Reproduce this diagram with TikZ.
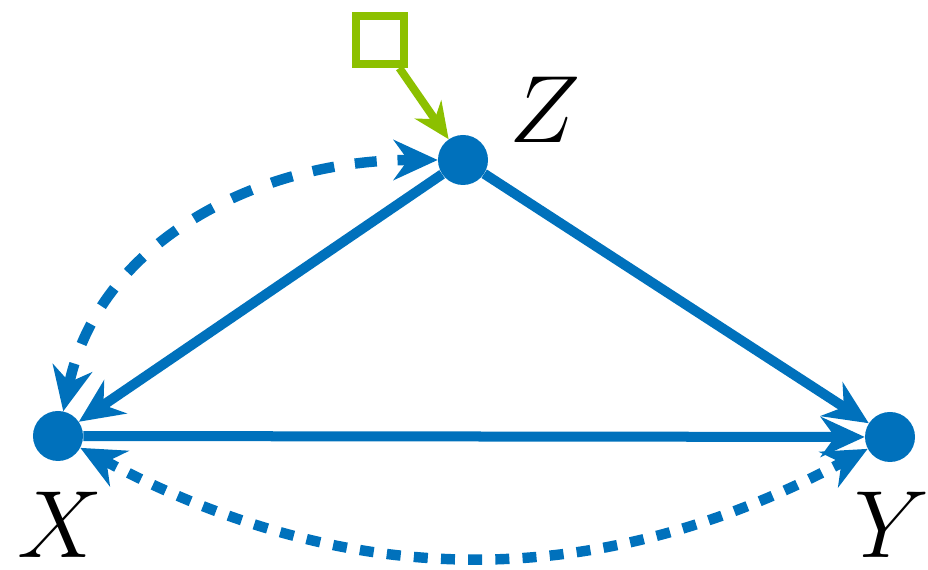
\RequirePackage{fix-cm}
\documentclass[tikz,border=0pt]{standalone}
\usepackage{tikz}
\usetikzlibrary{arrows.meta}
\definecolor{causeblue}{HTML}{0071BC}
\definecolor{limegreen}{HTML}{8CC000}

\begin{document}
\begin{tikzpicture}[x=0.025cm,y=0.025cm,
  vert/.style={circle,fill=causeblue,minimum size=1.25cm,inner sep=0pt},
  edge/.style={causeblue,line width=0.25cm,-{Stealth[length=1.1cm,width=1.0cm]}},
  confound/.style={causeblue,line width=0.26cm,
    {Stealth[length=1.1cm,width=1.0cm]}-{Stealth[length=1.1cm,width=1.0cm]}},
  lab/.style={font=\fontsize{68}{78}\selectfont,inner sep=0pt}]
\useasboundingbox (0,0) rectangle (928,570);
% vertices
\node[vert] (z) at (463,410) {};
\node[vert] (x) at (58,134) {};
\node[vert] (y) at (890,133) {};
\node[draw=limegreen,line width=0.2cm,minimum size=1.2cm,inner sep=0pt] (sq) at (380,530) {};
\node[lab] (zl) at (545,460) {$Z$};
\node[lab] (xl) at (60,45) {$X$};
\node[lab] (yl) at (892,45) {$Y$};
% edges
\draw[edge] (z) -- (x);
\draw[edge] (z) -- (y);
\draw[edge] (x) -- (y);
\draw[confound,dash pattern=on 0.55cm off 0.52cm] (x) to[out=78,in=180] (z);
\draw[confound,dash pattern=on 0.35cm off 0.33cm] (x) to[out=-28,in=-152] (y);
\draw[limegreen,line width=0.2cm,-{Stealth[length=0.9cm,width=0.8cm]}] (sq) -- (z);
\end{tikzpicture}
\end{document}
